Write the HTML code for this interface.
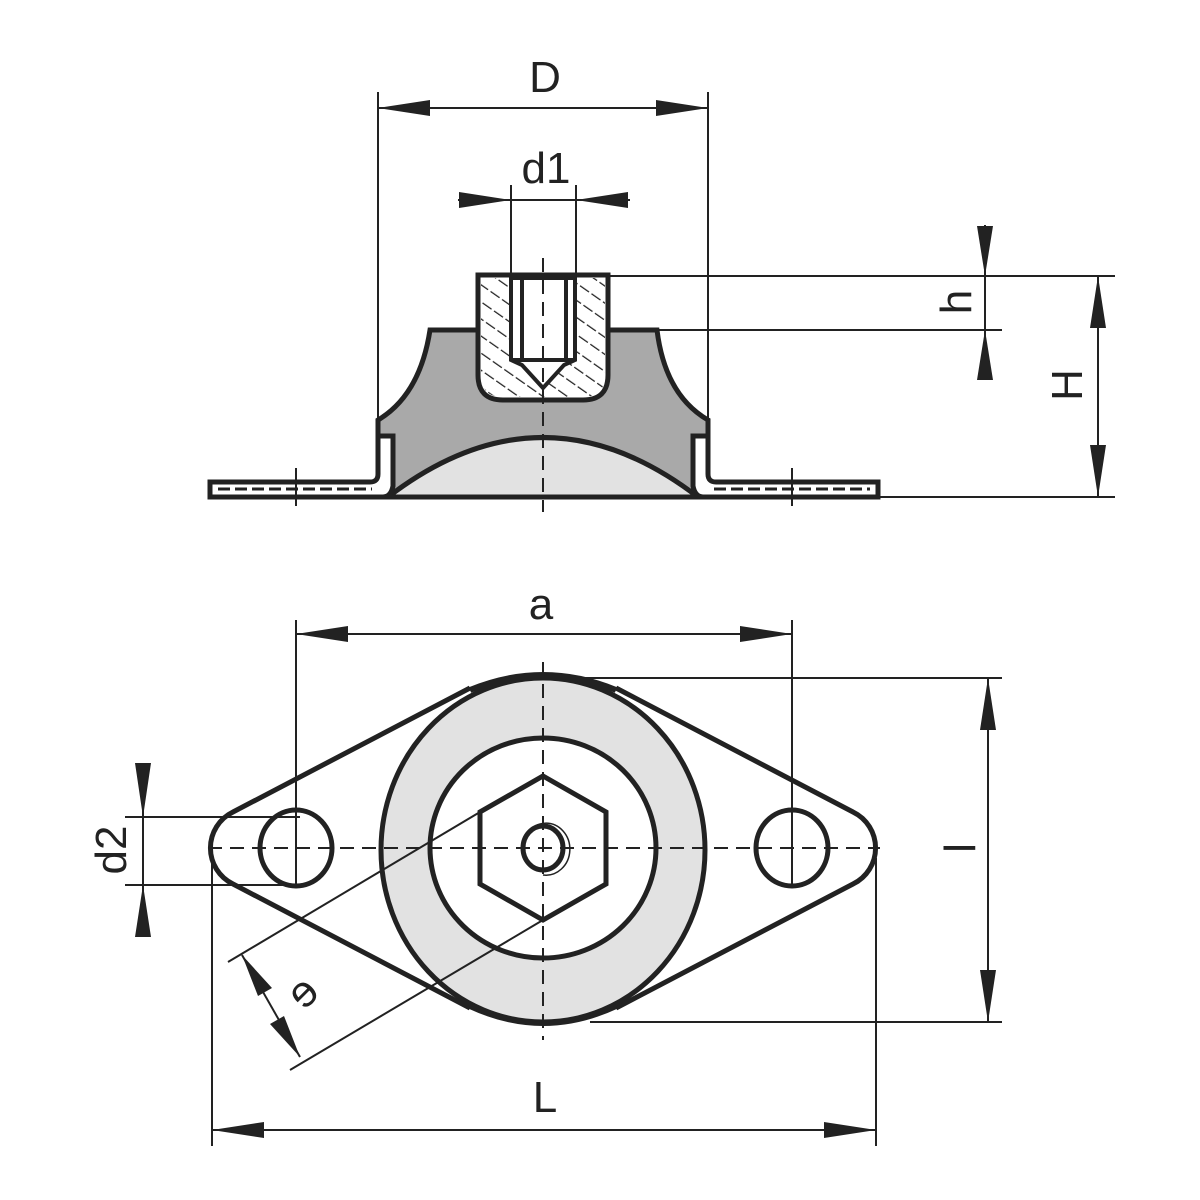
<!DOCTYPE html>
<html><head><meta charset="utf-8"><style>
html,body{margin:0;padding:0;background:#fff;}
svg{display:block;}
text{font-family:"Liberation Sans",Arial,sans-serif;font-size:44px;fill:#222;}
</style></head><body>
<svg width="1200" height="1200" viewBox="0 0 1200 1200" xmlns="http://www.w3.org/2000/svg">
<defs>
<pattern id="hatch" width="14" height="14" patternUnits="userSpaceOnUse" patternTransform="rotate(-55)">
<line x1="0" y1="0" x2="0" y2="14" stroke="#222" stroke-width="2.5" stroke-dasharray="6,3"/>
</pattern>
</defs>
<g stroke="#222" fill="none">
<path d="M430,330 H657 Q665,395 708,420 V497 H378 V420 Q420,395 430,330Z" fill="#a9a9a9" stroke-width="5"/>
<path d="M388,497 Q543,378 698,497Z" fill="#e2e2e2" stroke-width="5"/>
<path d="M210,482 H370 Q378,482 378,474 V436 H393 V486 Q391,497 383,497 H210Z" fill="#fff" stroke-width="5"/>
<path d="M878,482 H716 Q708,482 708,474 V436 H693 V486 Q695,497 703,497 H878Z" fill="#fff" stroke-width="5"/>
<g stroke-width="3" stroke-dasharray="12,5">
<line x1="218" y1="489" x2="372" y2="489"/><line x1="714" y1="489" x2="870" y2="489"/>
</g>
<path d="M478,275 H608 V375 Q608,400 583,400 H503 Q478,400 478,375Z" fill="#fff" stroke-width="5"/>
<path d="M481,278 H605 V375 Q605,397 583,397 H503 Q481,397 481,375Z" fill="url(#hatch)" stroke="none"/>
<path d="M511,278 V360 L522,365 L543,388 L564,365 L575,360 V278Z" fill="#fff" stroke-width="4"/>
<line x1="522" y1="280" x2="522" y2="360" stroke-width="4"/>
<line x1="566" y1="280" x2="566" y2="360" stroke-width="4"/>
<line x1="511" y1="360" x2="575" y2="360" stroke-width="4"/>
<line x1="543" y1="258" x2="543" y2="512" stroke-width="2" stroke-dasharray="14,8"/>
<line x1="296" y1="468" x2="296" y2="506" stroke-width="2"/>
<line x1="792" y1="468" x2="792" y2="506" stroke-width="2"/>
<g stroke-width="2">
<line x1="378" y1="92" x2="378" y2="420"/><line x1="708" y1="92" x2="708" y2="420"/>
<line x1="378" y1="108" x2="708" y2="108"/>
<line x1="511" y1="185" x2="511" y2="278"/><line x1="576" y1="185" x2="576" y2="278"/>
<line x1="458" y1="200" x2="630" y2="200"/>
<line x1="608" y1="276" x2="1002" y2="276"/><line x1="657" y1="330" x2="1002" y2="330"/>
<line x1="985" y1="225" x2="985" y2="380"/>
<line x1="1098" y1="276" x2="1098" y2="497"/>
<line x1="878" y1="497" x2="1115" y2="497"/>
<line x1="1002" y1="276" x2="1115" y2="276"/>
</g>
<path d="M470,688 L233,812 A40,40 0 0 0 233,884 L470,1008 M616,688 L853,812 A40,40 0 0 1 853,884 L616,1008" stroke-width="5"/>
<ellipse cx="543" cy="850" rx="162" ry="172" fill="#e2e2e2" stroke-width="5"/>
<path d="M470,690 Q543,660 616,690 M470,1006 Q543,1040 616,1006" stroke-width="6"/>
<ellipse cx="543" cy="848" rx="113" ry="110" fill="#fff" stroke-width="5"/>
<polygon points="543,776 606,812 606,884 543,920 480,884 480,812" fill="#fff" stroke-width="5"/>
<ellipse cx="543" cy="848" rx="20" ry="22" stroke-width="5"/>
<path d="M522,852 A24,26 0 1 1 543,875" stroke-width="1.5"/>
<ellipse cx="296" cy="848" rx="36" ry="38" fill="#fff" stroke-width="5"/>
<ellipse cx="792" cy="848" rx="36" ry="38" fill="#fff" stroke-width="5"/>
<g stroke-width="2" stroke-dasharray="14,8">
<line x1="208" y1="848" x2="880" y2="848"/>
<line x1="543" y1="662" x2="543" y2="1040"/>
</g>
<g stroke-width="2">
<line x1="296" y1="620" x2="296" y2="888"/><line x1="792" y1="620" x2="792" y2="888"/>
<line x1="296" y1="634" x2="792" y2="634"/>
<line x1="543" y1="678" x2="1002" y2="678"/><line x1="590" y1="1022" x2="1002" y2="1022"/>
<line x1="988" y1="678" x2="988" y2="1022"/>
<line x1="212" y1="858" x2="212" y2="1146"/><line x1="876" y1="858" x2="876" y2="1146"/>
<line x1="212" y1="1130" x2="876" y2="1130"/>
<line x1="125" y1="817" x2="300" y2="817"/><line x1="125" y1="885" x2="300" y2="885"/>
<line x1="143" y1="763" x2="143" y2="937"/>
<line x1="228" y1="962" x2="480" y2="812"/>
<line x1="290" y1="1070" x2="543" y2="920"/>
<line x1="242" y1="955" x2="300" y2="1057"/>
</g>
</g>
<g fill="#222">
<polygon points="378,108 430,100 430,116"/><polygon points="708,108 656,100 656,116"/>
<polygon points="511,200 459,192 459,208"/><polygon points="576,200 628,192 628,208"/>
<polygon points="985,276 977,226 993,226"/><polygon points="985,330 977,380 993,380"/>
<polygon points="1098,276 1090,328 1106,328"/><polygon points="1098,497 1090,445 1106,445"/>
<polygon points="296,634 348,626 348,642"/><polygon points="792,634 740,626 740,642"/>
<polygon points="988,678 980,730 996,730"/><polygon points="988,1022 980,970 996,970"/>
<polygon points="212,1130 264,1122 264,1138"/><polygon points="876,1130 824,1122 824,1138"/>
<polygon points="143,817 135,763 151,763"/><polygon points="143,885 135,937 151,937"/>
<polygon points="242,955 272,988 258,996"/><polygon points="300,1057 270,1024 284,1016"/>
</g>
<text x="545" y="92" text-anchor="middle">D</text>
<text x="546" y="183" text-anchor="middle">d1</text>
<text x="541" y="619" text-anchor="middle">a</text>
<text x="545" y="1112" text-anchor="middle">L</text>
<text transform="translate(971,302) rotate(-90)" text-anchor="middle">h</text>
<text transform="translate(1082,385) rotate(-90)" text-anchor="middle">H</text>
<text transform="translate(126,850) rotate(-90)" text-anchor="middle">d2</text>
<text transform="translate(975,848) rotate(-90)" text-anchor="middle">l</text>
<text transform="matrix(-0.707,0.707,0.707,0.707,302,992)" text-anchor="middle" dy="15">e</text>
</svg>
</body></html>
